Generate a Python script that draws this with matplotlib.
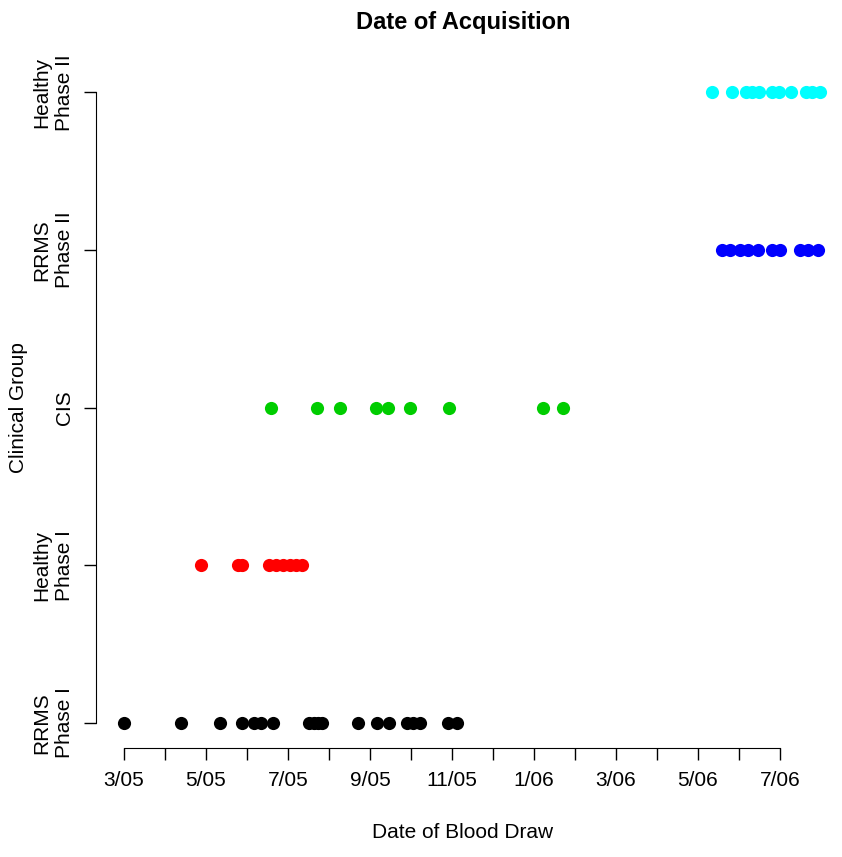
import matplotlib
matplotlib.use("Agg")
import matplotlib.pyplot as plt

# months since 1 March 2005 for each blood draw
rrms1 = [0, 1.39, 2.34, 2.88, 3.17, 3.34, 3.63, 4.51, 4.63, 4.73, 4.83,
         5.71, 6.17, 6.46, 6.90, 7.05, 7.22, 7.90, 8.12]
healthy1 = [1.88, 2.78, 2.88, 3.54, 3.71, 3.88, 4.05, 4.20, 4.34]
cis = [3.58, 4.72, 5.27, 6.16, 6.43, 6.98, 7.94, 10.23, 10.70]
rrms2 = [14.58, 14.78, 15.02, 15.23, 15.47, 15.80, 16.00, 16.49, 16.69, 16.93]
healthy2 = [14.34, 14.83, 15.17, 15.32, 15.49, 15.80, 15.98, 16.27, 16.63, 16.78, 16.98]

groups = ["RRMS\nPhase I", "Healthy\nPhase I", "CIS", "RRMS\nPhase II", "Healthy\nPhase II"]
cols = ["black", "red", "#00CD00", "blue", "cyan"]
series = [rrms1, healthy1, cis, rrms2, healthy2]

month_labels = ["3/05", "5/05", "7/05", "9/05", "11/05", "1/06", "3/06", "5/06", "7/06"]

plt.rcParams["font.family"] = ["Liberation Sans", "DejaVu Sans"]

fig = plt.figure(figsize=(8.42, 8.57), dpi=100)
ax = fig.add_axes([96/842, 109/857, (830-96)/842, (748-67)/857])

for i in range(len(series)):
    ax.scatter(series[i], [i]*len(series[i]), s=90, color=cols[i], zorder=3, linewidths=0)

ax.set_xlim(-0.68, 17.22)
ax.set_ylim(-0.16, 4.16)

ax.spines["top"].set_visible(False)
ax.spines["right"].set_visible(False)
ax.spines["bottom"].set_bounds(0, 16)
ax.spines["left"].set_bounds(0, 4)

ax.set_xticks(range(17))
ax.set_xticklabels([month_labels[k//2] if k % 2 == 0 else "" for k in range(17)], fontsize=15)
ax.set_yticks(range(5))
ax.set_yticklabels(groups, rotation=90, va="center", ha="right", fontsize=15,
                   multialignment="center", linespacing=1.25)
ax.tick_params(axis="both", length=8.6, width=1, direction="out")
ax.tick_params(axis="x", pad=8)
ax.tick_params(axis="y", pad=7)

ax.set_xlabel("Date of Blood Draw", fontsize=15, labelpad=24)
ax.set_ylabel("Clinical Group", fontsize=15, labelpad=3)
ax.set_title("Date of Acquisition", fontsize=17, fontweight="bold", pad=27)

fig.savefig("out.png", dpi=100)
